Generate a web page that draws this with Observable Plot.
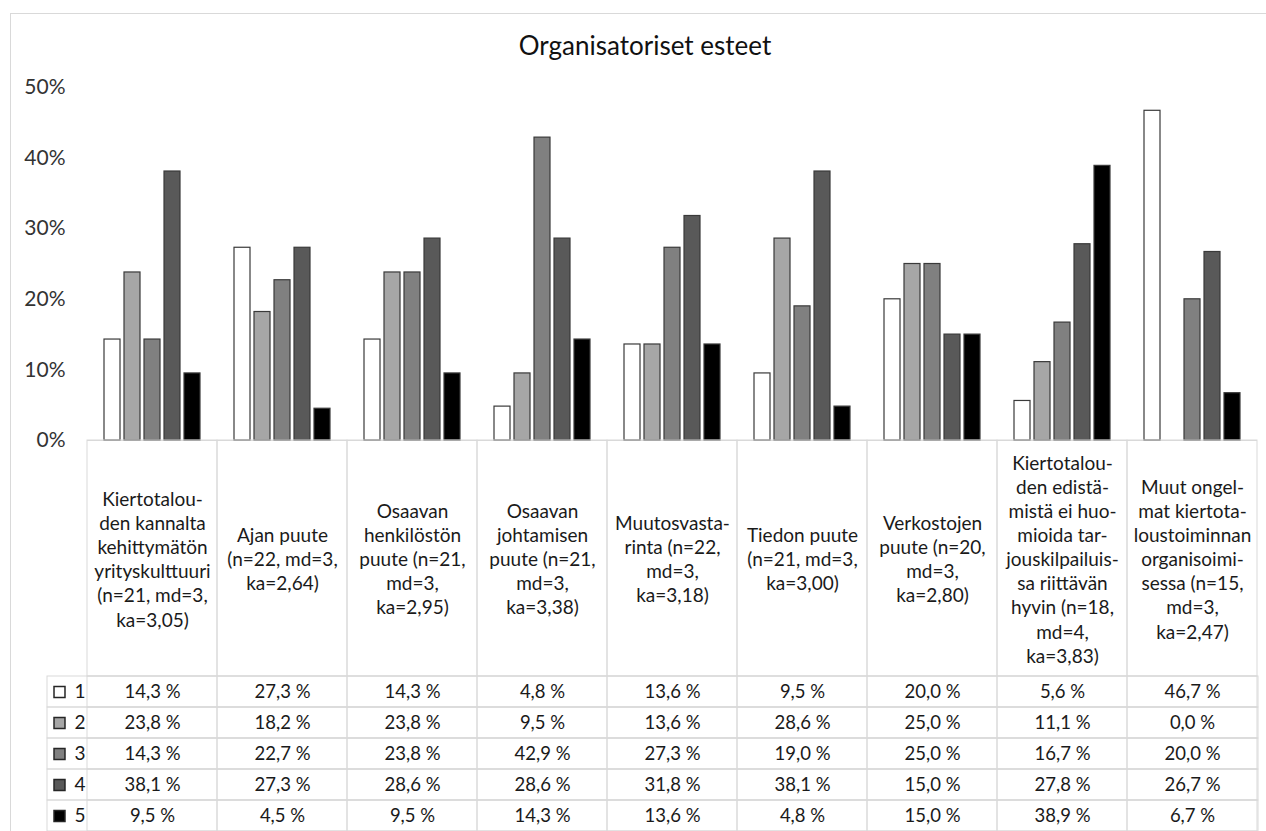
<!DOCTYPE html>
<html><head><meta charset="utf-8">
<script src="https://cdn.jsdelivr.net/npm/d3@7"></script>
<script src="https://cdn.jsdelivr.net/npm/@observablehq/plot@0.6"></script>
<style>
body{margin:0;background:#fff;}
#root{position:relative;width:1266px;height:831px;overflow:hidden;font-family:Lato,sans-serif;background:#fff;}
#frame{position:absolute;left:10px;top:13px;width:1300px;height:900px;border:1px solid #d9d9d9;box-sizing:border-box;}
#title{position:absolute;left:0;width:1290px;top:28px;line-height:34px;text-align:center;font-size:26px;color:#111;}
.p{position:absolute;left:0;}
.p svg{overflow:visible;}
</style></head><body>
<div id="root"><div id="frame"></div><div id="title">Organisatoriset esteet</div>
<div class="p" id="p1" style="top:70px"></div>
<div class="p" id="p2" style="top:440px"></div>
<div class="p" id="p3" style="top:676px"></div>
</div>
<script>
const categories = ["c1","c2","c3","c4","c5","c6","c7","c8","c9"];
const categoryLabels = [
  "Kiertotalou-\nden kannalta\nkehittymätön\nyrityskulttuuri\n(n=21, md=3,\nka=3,05)",
  "Ajan puute\n(n=22, md=3,\nka=2,64)",
  "Osaavan\nhenkilöstön\npuute (n=21,\nmd=3,\nka=2,95)",
  "Osaavan\njohtamisen\npuute (n=21,\nmd=3,\nka=3,38)",
  "Muutosvasta-\nrinta (n=22,\nmd=3,\nka=3,18)",
  "Tiedon puute\n(n=21, md=3,\nka=3,00)",
  "Verkostojen\npuute (n=20,\nmd=3,\nka=2,80)",
  "Kiertotalou-\nden edistä-\nmistä ei huo-\nmioida tar-\njouskilpailuis-\nsa riittävän\nhyvin (n=18,\nmd=4,\nka=3,83)",
  "Muut ongel-\nmat kiertota-\nloustoiminnan\norganisoimi-\nsessa (n=15,\nmd=3,\nka=2,47)"
];
const responses = ["1","2","3","4","5"];
const s1 = [14.3, 27.3, 14.3, 4.8, 13.6, 9.5, 20.0, 5.6, 46.7];
const s2 = [23.8, 18.2, 23.8, 9.5, 13.6, 28.6, 25.0, 11.1, 0.0];
const s3 = [14.3, 22.7, 23.8, 42.9, 27.3, 19.0, 25.0, 16.7, 20.0];
const s4 = [38.1, 27.3, 28.6, 28.6, 31.8, 38.1, 15.0, 27.8, 26.7];
const s5 = [9.5, 4.5, 9.5, 14.3, 13.6, 4.8, 15.0, 38.9, 6.7];
const yTicks = [0, 10, 20, 30, 40, 50];
const seriesColors = ["#ffffff", "#a6a6a6", "#808080", "#595959", "#000000"];

const series = [s1, s2, s3, s4, s5];
const data = [];
series.forEach((s, r) => s.forEach((v, c) => data.push({cat: categories[c], resp: responses[r], v, color: seriesColors[r]})));
const fmt = v => v.toFixed(1).replace(".", ",") + " %";
const W = 1266, ML = 86, MR = 8;
const gridStroke = "#d9d9d9";
const textColor = "#1a1a1a";
const baseStyle = {fontFamily: "Lato, sans-serif", color: textColor, background: "transparent", overflow: "visible"};

const p1 = Plot.plot({
  width: W, height: 370, marginTop: 17, marginBottom: 0, marginLeft: ML, marginRight: MR,
  style: {...baseStyle, fontSize: "20px"},
  fx: {domain: categories, padding: 0, axis: null},
  x: {domain: responses, paddingInner: 0.2, paddingOuter: 0.85, axis: null},
  y: {domain: [0, 50], axis: null},
  marks: [
    Plot.axisY({ticks: yTicks, tickFormat: d => d + "%", tickSize: 0, tickPadding: 22, fontSize: 21, fill: "#333", label: null, facetAnchor: "left"}),
    Plot.ruleY([0], {stroke: gridStroke}),
    Plot.barY(data.filter(d => d.v > 0), {fx: "cat", x: "resp", y: "v", fill: "color", stroke: "#3a3a3a", strokeWidth: 1.2})
  ]
});
document.getElementById("p1").append(p1);

const p2 = Plot.plot({
  width: W, height: 236, margin: 0, marginLeft: ML, marginRight: MR,
  style: {...baseStyle, fontSize: "19px"},
  x: {domain: categories, padding: 0, axis: null},
  marks: [
    Plot.cell(categories, {x: d => d, fill: "none", stroke: gridStroke}),
    Plot.text(categories, {x: d => d, text: (d, i) => categoryLabels[i], frameAnchor: "middle", lineHeight: 1.27, fontSize: 19, fill: textColor})
  ]
});
document.getElementById("p2").append(p2);

const p3 = Plot.plot({
  width: W, height: 155, margin: 0, marginLeft: ML, marginRight: MR,
  style: {...baseStyle, fontSize: "18.5px"},
  x: {domain: categories, padding: 0, axis: null},
  y: {domain: responses, padding: 0, axis: null},
  marks: [
    Plot.cell(responses, {y: d => d, insetLeft: -39, fill: "none", stroke: gridStroke}),
    Plot.cell(data, {x: "cat", y: "resp", fill: "none", stroke: gridStroke}),
    Plot.text(data, {x: "cat", y: "resp", text: d => fmt(d.v), fontSize: 18.5, fill: textColor}),
    Plot.dot(responses, {y: d => d, frameAnchor: "left", dx: -27, symbol: "square", r: 6.2, fill: (d, i) => seriesColors[i], stroke: "#262626"}),
    Plot.text(responses, {y: d => d, text: d => d, frameAnchor: "left", dx: -12, fontSize: 19, fill: textColor})
  ]
});
document.getElementById("p3").append(p3);
</script>
</body></html>
